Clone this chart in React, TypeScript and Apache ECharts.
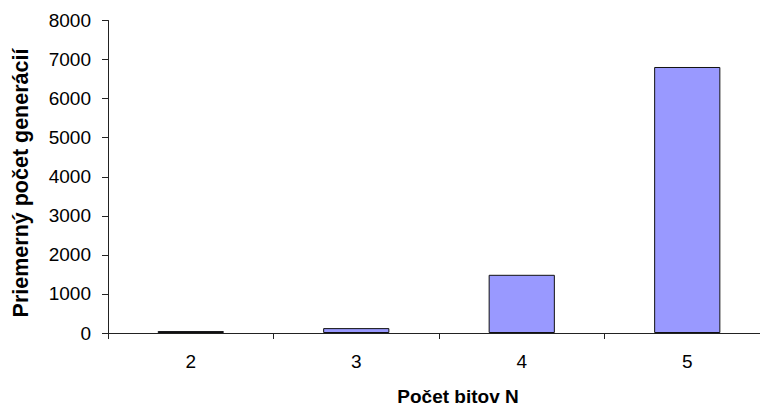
import React, { useEffect, useRef } from "react";
import * as echarts from "echarts";

const categories = ["2", "3", "4", "5"];
const values = [50, 125, 1490, 6810];
const yTicks = { min: 0, max: 8000, interval: 1000 };
const xTitle = "Počet bitov N";
const yTitle = "Priemerný počet generácií";

export default function App() {
  const ref = useRef<HTMLDivElement>(null);
  useEffect(() => {
    if (!ref.current) return;
    const chart = echarts.init(ref.current, null, { renderer: "svg" });
    const font = "'Liberation Sans', Arial, sans-serif";
    chart.setOption({
      animation: false,
      backgroundColor: "#ffffff",
      grid: { left: 108, top: 20.5, right: 0, bottom: 79, containLabel: false },
      xAxis: {
        type: "category",
        data: categories,
        boundaryGap: true,
        axisLine: { show: true, lineStyle: { color: "#222", width: 1 } },
        axisTick: { show: true, length: 6, lineStyle: { color: "#222" } },
        axisLabel: { color: "#000", fontSize: 19, fontFamily: font, margin: 19 },
        splitLine: { show: false },
      },
      yAxis: {
        type: "value",
        min: yTicks.min,
        max: yTicks.max,
        interval: yTicks.interval,
        axisLine: { show: true, lineStyle: { color: "#222", width: 1 } },
        axisTick: { show: true, length: 6, lineStyle: { color: "#222" } },
        axisLabel: {
          color: "#000",
          fontSize: 19,
          fontFamily: font,
          margin: 17,
          formatter: (v: number) => String(v),
        },
        splitLine: { show: false },
      },
      series: [
        {
          type: "bar",
          data: values,
          barWidth: "40%",
          itemStyle: { color: "#9999FF", borderColor: "#111", borderWidth: 1 },
        },
      ],
      graphic: [
        {
          type: "text",
          x: 458,
          y: 396,
          style: {
            text: xTitle,
            fontSize: 19,
            fontWeight: "bold",
            fontFamily: font,
            fill: "#000",
            textAlign: "center",
            textVerticalAlign: "middle",
          },
        },
        {
          type: "text",
          x: 21,
          y: 183,
          rotation: Math.PI / 2,
          style: {
            text: yTitle,
            fontSize: 21.5,
            fontWeight: "bold",
            fontFamily: font,
            fill: "#000",
            textAlign: "center",
            textVerticalAlign: "middle",
          },
        },
      ],
    });
    return () => chart.dispose();
  }, []);
  return (
    <div
      style={{
        position: "absolute",
        left: 0,
        top: 0,
        width: 760,
        height: 412,
        overflow: "hidden",
        background: "#fff",
      }}
    >
      <div ref={ref} style={{ width: 770, height: 412 }} />
    </div>
  );
}
